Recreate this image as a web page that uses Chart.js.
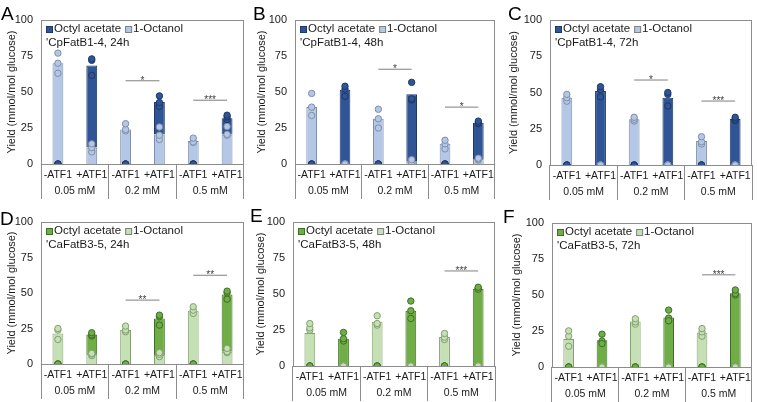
<!DOCTYPE html>
<html>
<head>
<meta charset="utf-8">
<script src="https://cdn.jsdelivr.net/npm/chart.js@4.4.1/dist/chart.umd.min.js"></script>
<style>
  body { margin: 0; background: #fff; }
  #wrap { position: relative; width: 757px; height: 402px; }
  canvas { position: absolute; }
</style>
</head>
<body>
<div id="wrap">
  <canvas id="cA" width="250" height="200" style="left:0;top:0"></canvas>
  <canvas id="cB" width="250" height="200" style="left:250px;top:0"></canvas>
  <canvas id="cC" width="257" height="200" style="left:500px;top:0"></canvas>
  <canvas id="cD" width="250" height="202" style="left:0;top:200px"></canvas>
  <canvas id="cE" width="250" height="202" style="left:250px;top:200px"></canvas>
  <canvas id="cF" width="257" height="202" style="left:500px;top:200px"></canvas>
</div>
<script>
// categories
var cats = ['-ATF1', '+ATF1', '-ATF1', '+ATF1', '-ATF1', '+ATF1'];
var groups = ['0.05 mM', '0.2 mM', '0.5 mM'];

// bar segments (mmol/mol glucose): 1-octanol at the bottom, octyl acetate on top
var octanolA = [70, 11.5, 24, 20.5, 16, 20.5];
var acetateA = [null, 56.9, null, 22.5, null, 11.3];
var octanolB = [39.5, 0, 31.4, 1.5, 14, 3.5];
var acetateB = [null, 51.6, null, 46.9, null, 25.1];
var octanolC = [46.4, 0, 31.5, 0, 16.5, 0];
var acetateC = [null, 51, null, 46.4, null, 31.7];
var octanolD = [21.5, 7, 23.9, 6.3, 37.5, 8.7];
var acetateD = [null, 13.8, null, 25.8, null, 40.3];
var octanolE = [23, 0, 30.7, 0, 20.2, 0];
var acetateE = [null, 19, null, 38.4, null, 53.7];
var octanolF = [19.5, 0, 31.6, 0, 23.7, 0];
var acetateF = [null, 18.6, null, 34.4, null, 51.2];

// replicate points (light = 1-octanol, dark = octyl acetate, as plotted)
var octPtsA = [[77, 14, 28, 25.7, 18, 26], [70, 11.4, 24, 20, 15.3, 20.6], [63, 8.4, 23, 17, 15, 20]];
var acePtsA = [[0, 73, 0, 47.3, 0, 33.9], [0, 72, 0, 42.7, 0, 32.7], [0, 61.5, 0, 40, 0, 30.9]];
var octPtsB = [[49, 0, 38, 3, 16.5, 4], [39.5, 0, 31.4, 1, 14, 3.5], [33.7, 0, 25, 0.5, 10.5, 2.8]];
var acePtsB = [[0, 54, 0, 56.7, 0, 29.8], [0, 52, 0, 45.3, 0, 28.6], [0, 47, 0, 44.4, 0, 28]];
var octPtsC = [[48.7, 0, 32.9, 0, 19.5, 0], [46.4, 0, 31.5, 0, 16, 0], [44, 0, 30.3, 0, 14.5, 0]];
var acePtsC = [[0, 54, 0, 50, 0, 32.9], [0, 52, 0, 48.7, 0, 31.7], [0, 47, 0, 40.7, 0, 30.6]];
var octPtsD = [[25, 7.5, 26.7, 8, 40.3, 11], [23.9, 7, 23.9, 6.8, 37.9, 8.7], [17.3, 5.9, 22.7, 5.2, 35.6, 8]];
var acePtsD = [[0, 22, 0, 34.4, 0, 51.3], [0, 20.6, 0, 33.3, 0, 50.1], [0, 19.7, 0, 27.4, 0, 45.7]];
var octPtsE = [[29.5, 0, 34.9, 0, 22.6, 0], [26.5, 0, 29.5, 0, 20, 0], [24.9, 0, 28.4, 0, 18.4, 0]];
var acePtsE = [[0, 23.3, 0, 45.1, 0, 54.7], [0, 19, 0, 38.4, 0, 53.3], [0, 17.4, 0, 33, 0, 54]];
var octPtsF = [[25.1, 0, 33.5, 0, 26.7, 0], [21.4, 0, 31.4, 0, 24.4, 0], [14.4, 0, 29.8, 0, 21.4, 0]];
var acePtsF = [[0, 22.8, 0, 39.5, 0, 53.5], [0, 16.3, 0, 32.1, 0, 51], [0, 18, 0, 34, 0, 50]];

// significance brackets: first category index, height, label
var sigA = [{at: 2, y: 57.8, text: '*'}, {at: 4, y: 44.3, text: '***'}];
var sigB = [{at: 2, y: 65.8, text: '*'}, {at: 4, y: 39.5, text: '*'}];
var sigC = [{at: 2, y: 58.6, text: '*'}, {at: 4, y: 44.1, text: '***'}];
var sigD = [{at: 2, y: 45, text: '**'}, {at: 4, y: 62.5, text: '**'}];
var sigE = [{at: 4, y: 66, text: '***'}];
var sigF = [{at: 4, y: 64, text: '***'}];

var FONT = "'Liberation Sans', Arial, sans-serif";
Chart.defaults.font.family = FONT;
Chart.defaults.color = '#262626';

var blue = {dark: '#2f5597', darkEdge: '#1f3864', light: '#b4c7e7', lightEdge: '#7f8fa8'};
var green = {dark: '#70ad47', darkEdge: '#3e6e27', light: '#c5e0b4', lightEdge: '#84a073'};

var panels = [
  {id: 'cA', letter: 'A', strain: "'CpFatB1-4, 24h", col: blue, oct: octanolA, ace: acetateA, octPts: octPtsA, acePts: acePtsA, sig: sigA,
   padL: 1, yW: 40, padT: 20, padR: 6, padB: 1, letterX: 1, letterY: 20},
  {id: 'cB', letter: 'B', strain: "'CpFatB1-4, 48h", col: blue, oct: octanolB, ace: acetateB, octPts: octPtsB, acePts: acePtsB, sig: sigB,
   padL: 1, yW: 44, padT: 20, padR: 1, padB: 1, letterX: 3, letterY: 20},
  {id: 'cC', letter: 'C', strain: "'CpFatB1-4, 72h", col: blue, oct: octanolC, ace: acetateC, octPts: octPtsC, acePts: acePtsC, sig: sigC,
   padL: 3, yW: 47, padT: 20, padR: 2, padB: 0, letterX: 8, letterY: 20},
  {id: 'cD', letter: 'D', strain: "'CaFatB3-5, 24h", col: green, oct: octanolD, ace: acetateD, octPts: octPtsD, acePts: acePtsD, sig: sigD,
   padL: 1, yW: 40, padT: 22, padR: 6, padB: 3, letterX: 0, letterY: 25},
  {id: 'cE', letter: 'E', strain: "'CaFatB3-5, 48h", col: green, oct: octanolE, ace: acetateE, octPts: octPtsE, acePts: acePtsE, sig: sigE,
   padL: 0, yW: 43, padT: 22, padR: 0, padB: 1, letterX: 0, letterY: 22},
  {id: 'cF', letter: 'F', strain: "'CaFatB3-5, 72h", col: green, oct: octanolF, ace: acetateF, octPts: octPtsF, acePts: acePtsF, sig: sigF,
   padL: 6, yW: 46, padT: 23, padR: 2, padB: 0, letterX: 3, letterY: 23}
];

// frame around the plot area
var framePlugin = {
  id: 'frame',
  beforeDatasetsDraw: function(chart) {
    var a = chart.chartArea, ctx = chart.ctx;
    ctx.save();
    ctx.strokeStyle = '#8c8c8c';
    ctx.lineWidth = 1;
    ctx.strokeRect(Math.round(a.left) + 0.5, Math.round(a.top) + 0.5,
      Math.round(a.right - a.left) - 1, Math.round(a.bottom - a.top));
    ctx.restore();
  }
};

// stars over the significance lines, legend and panel letter
var notesPlugin = {
  id: 'notes',
  afterDatasetsDraw: function(chart) {
    var ctx = chart.ctx, a = chart.chartArea, p = chart.config.options.plugins.notes;
    ctx.save();
    chart.data.datasets.forEach(function(ds, i) {
      if (!ds.sigText) return;
      var pts = chart.getDatasetMeta(i).data.filter(function(e, k) { return ds.data[k] != null; });
      var x = (pts[0].x + pts[1].x) / 2;
      ctx.font = '10px ' + FONT;
      ctx.fillStyle = '#404040';
      ctx.textAlign = 'center';
      ctx.textBaseline = 'alphabetic';
      ctx.fillText(ds.sigText, x, pts[0].y + 3);
    });

    // legend
    ctx.font = '11.5px ' + FONT;
    ctx.textAlign = 'left';
    ctx.textBaseline = 'middle';
    var x = a.left + 5, y = a.top + 9;
    ctx.fillStyle = p.col.dark; ctx.fillRect(x, y - 3, 7, 7);
    ctx.strokeStyle = p.col.darkEdge; ctx.lineWidth = 1; ctx.strokeRect(x + 0.5, y - 2.5, 6, 6);
    ctx.fillStyle = '#1a1a1a';
    ctx.fillText('Octyl acetate', x + 8, y);
    x += 8 + ctx.measureText('Octyl acetate').width + 4;
    ctx.fillStyle = p.col.light; ctx.fillRect(x, y - 3, 7, 7);
    ctx.strokeStyle = '#808080'; ctx.strokeRect(x + 0.5, y - 2.5, 6, 6);
    ctx.fillStyle = '#1a1a1a';
    ctx.fillText('1-Octanol', x + 8, y);
    ctx.fillText(p.strain, a.left + 5, a.top + 23);

    // panel letter
    ctx.font = '19px ' + FONT;
    ctx.textBaseline = 'alphabetic';
    ctx.fillStyle = '#000';
    ctx.fillText(p.letter, p.letterX, p.letterY);
    ctx.restore();
  }
};

function buildDatasets(p) {
  var ds = [];
  var barOpts = {type: 'bar', stack: 'bars', order: 3, borderWidth: 1, barPercentage: 0.32, categoryPercentage: 1};
  ds.push(Object.assign({label: '1-Octanol', data: p.oct, backgroundColor: p.col.light, borderColor: p.col.lightEdge}, barOpts));
  ds.push(Object.assign({label: 'Octyl acetate', data: p.ace, backgroundColor: p.col.dark, borderColor: p.col.darkEdge}, barOpts));
  p.acePts.forEach(function(d, i) {
    ds.push({type: 'line', data: d, showLine: false, stack: 'a' + i, order: 2, pointRadius: 3.2,
      pointBackgroundColor: p.col.dark, pointBorderColor: p.col.darkEdge, pointBorderWidth: 1});
  });
  p.octPts.forEach(function(d, i) {
    ds.push({type: 'line', data: d, showLine: false, stack: 'o' + i, order: 1, pointRadius: 3.2,
      pointBackgroundColor: p.col.light, pointBorderColor: p.col.lightEdge, pointBorderWidth: 1});
  });
  p.sig.forEach(function(s, i) {
    var d = cats.map(function() { return null; });
    d[s.at] = s.y;
    d[s.at + 1] = s.y;
    ds.push({type: 'line', data: d, stack: 's' + i, order: 0, borderColor: '#7f7f7f', borderWidth: 1,
      pointRadius: 0, spanGaps: false, sigText: s.text});
  });
  return ds;
}

panels.forEach(function(p) {
  var ctx = document.getElementById(p.id).getContext('2d');
  new Chart(ctx, {
    type: 'bar',
    data: {labels: cats, datasets: buildDatasets(p)},
    plugins: [framePlugin, notesPlugin],
    options: {
      responsive: false,
      animation: false,
      devicePixelRatio: 1,
      events: [],
      layout: {padding: {left: p.padL, top: p.padT, right: p.padR, bottom: p.padB}},
      plugins: {
        legend: {display: false},
        tooltip: {enabled: false},
        notes: p
      },
      scales: {
        x: {
          stacked: true,
          offset: true,
          grid: {
            display: true, drawOnChartArea: false, drawTicks: true, tickLength: 35, offset: true, lineWidth: 1,
            color: function(c) { return (c.index === undefined || c.index % 2 === 0) ? '#8c8c8c' : 'rgba(0,0,0,0)'; }
          },
          border: {display: false},
          ticks: {padding: -30, font: {size: 10.5}, color: '#1a1a1a', maxRotation: 0, autoSkip: false},
          afterFit: function(s) { s.height = 18; }
        },
        x2: {
          type: 'category',
          labels: groups,
          position: 'bottom',
          offset: true,
          grid: {display: false, drawTicks: false},
          border: {display: false},
          ticks: {padding: 3, font: {size: 10.5}, color: '#1a1a1a', maxRotation: 0},
          afterFit: function(s) { s.height = 17; }
        },
        y: {
          stacked: true,
          min: 0,
          max: 100,
          grid: {display: false, drawTicks: false},
          border: {display: false},
          ticks: {stepSize: 25, padding: 8, font: {size: 11}, color: '#1a1a1a'},
          title: {display: true, text: 'Yield (mmol/mol glucose)', font: {size: 11}, color: '#1a1a1a', padding: {top: 4, bottom: 0}},
          afterFit: function(s) { s.width = p.yW; }
        }
      }
    }
  });
});
</script>
</body>
</html>
